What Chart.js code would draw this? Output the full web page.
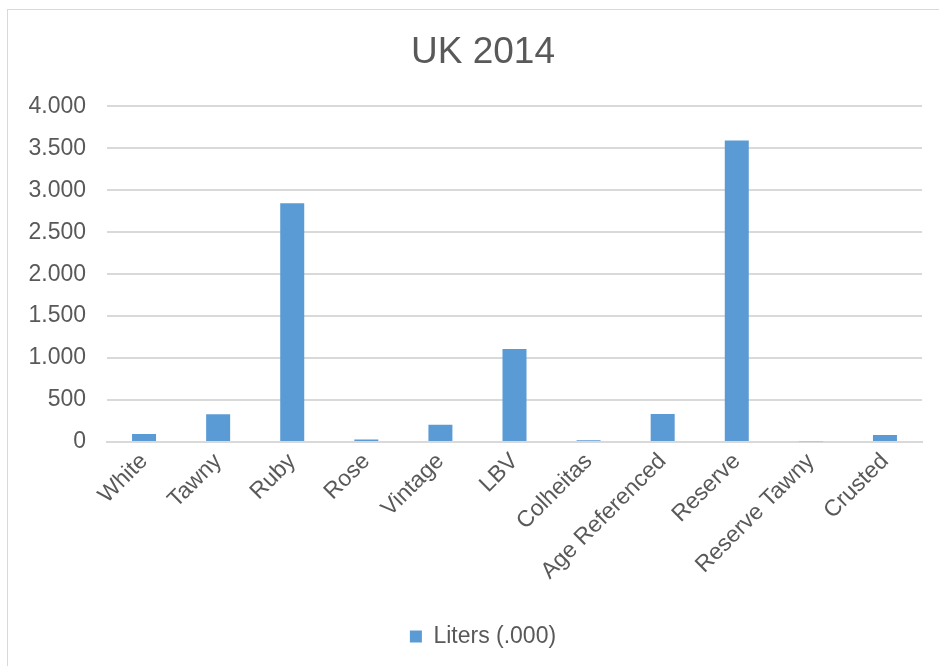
<!DOCTYPE html>
<html>
<head>
<meta charset="utf-8">
<script src="https://cdn.jsdelivr.net/npm/chart.js@4"></script>
<style>
  html, body { margin: 0; padding: 0; background: #fff; overflow: hidden; }
  #box {
    position: absolute; left: 7px; top: 9px;
    width: 952px; height: 660px;
    border: 1px solid #d9d9d9; box-sizing: border-box;
  }
</style>
</head>
<body>
<div id="box"><canvas id="myChart"></canvas></div>
<script>
const categories = ["White", "Tawny", "Ruby", "Rose", "Vintage", "LBV", "Colheitas",
  "Age Referenced", "Reserve", "Reserve Tawny", "Crusted"];
const liters = [95, 330, 2845, 30, 206, 1107, 20, 333, 3595, 10, 83];
const seriesName = "Liters (.000)";
const yMax = 4000;
const yStep = 500;

const grey = "#595959";
const font = "'Liberation Sans', Arial, sans-serif";

function fmtDots(v) {
  return String(v).replace(/\B(?=(\d{3})+(?!\d))/g, ".");
}

let ctx = document.getElementById("myChart");
let myChart = new Chart(ctx, {
  type: "bar",
  data: {
    labels: categories,
    datasets: [
      {
        label: seriesName,
        data: liters,
        backgroundColor: "#5B9BD5",
        borderWidth: 0,
        categoryPercentage: 0.324,
        barPercentage: 1
      }
    ]
  },
  options: {
    responsive: true,
    maintainAspectRatio: false,
    animation: false,
    layout: { padding: { left: 0, right: 0, top: 0, bottom: 10 } },
    plugins: {
      title: {
        display: true,
        text: "UK 2014",
        color: grey,
        font: { family: font, size: 37, weight: "normal" },
        padding: { top: 21, bottom: 31 }
      },
      legend: {
        position: "bottom",
        labels: {
          color: grey,
          font: { family: font, size: 23 },
          boxWidth: 12,
          boxHeight: 12,
          padding: 10
        }
      },
      tooltip: { enabled: false }
    },
    scales: {
      x: {
        grid: { display: false, drawTicks: false },
        border: { color: "#d9d9d9", width: 2 },
        ticks: {
          color: grey,
          font: { family: font, size: 23 },
          maxRotation: 45,
          minRotation: 45,
          autoSkip: false,
          padding: 6
        },
        afterFit: function (scale) { scale.height = 173; }
      },
      y: {
        min: 0,
        max: yMax,
        grid: { color: "#d9d9d9", lineWidth: 2, drawTicks: false },
        border: { display: false },
        ticks: {
          stepSize: yStep,
          color: grey,
          font: { family: font, size: 23 },
          padding: 21,
          callback: function (v) { return fmtDots(v); }
        },
        afterFit: function (scale) { scale.width = 99; }
      },
      // empty right axis, only keeps the plot clear of the right edge
      yRight: {
        position: "right",
        grid: { display: false, drawTicks: false },
        border: { display: false },
        ticks: { display: false },
        afterFit: function (scale) { scale.width = 36; }
      }
    }
  }
});
</script>
</body>
</html>
